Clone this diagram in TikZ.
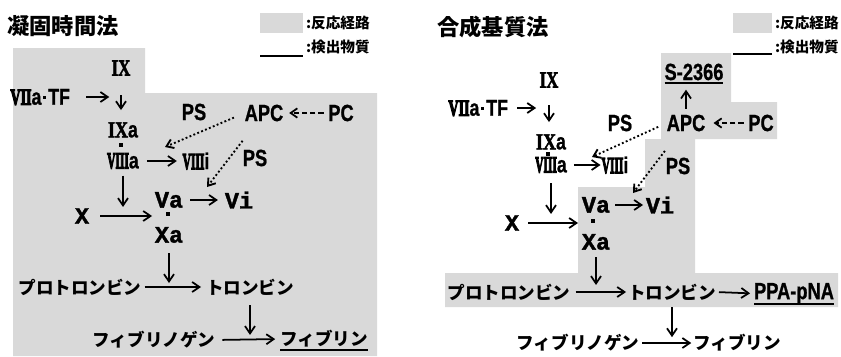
\documentclass[tikz,border=0pt]{standalone}
\usepackage{fontspec}
\usetikzlibrary{arrows.meta}
\newfontfamily\jp{Noto Sans CJK JP}
\newfontfamily\lsans{Liberation Sans}[BoldFeatures={FakeBold=1}]
\newfontfamily\lserif{Liberation Serif}[BoldFeatures={FakeBold=2.5}]
\newfontfamily\lserifH{Liberation Serif}[BoldFeatures={FakeBold=6}]
\newfontfamily\lmono{Liberation Mono}[BoldFeatures={FakeBold=1.5}]
\definecolor{pathgray}{HTML}{D9D9D9}
\newcommand{\sn}[1]{\scalebox{0.78}[1]{\lsans\bfseries #1}}
\newcommand{\rn}[2]{\resizebox{#1}{\height}{\lserif\bfseries #2}}
\newcommand{\rnh}[2]{\resizebox{#1}{\height}{\lserifH\bfseries #2}}
\newcommand{\sq}{\hspace{1.5pt}\rule[0.25em]{2.8pt}{2.8pt}\hspace{1.5pt}}
\tikzset{
  every node/.style={inner sep=0pt, outer sep=0pt},
  ttl/.style={font=\jp\bfseries\fontsize{19}{20}\selectfont},
  leg/.style={anchor=west, font=\jp\bfseries\fontsize{12.5}{13}\selectfont},
  jpt/.style={font=\jp\bfseries\fontsize{15}{16}\selectfont},
  lat/.style={font=\fontsize{20}{20}\selectfont},
  fac/.style={font=\fontsize{19.5}{19.5}\selectfont},
  mon/.style={font=\lmono\bfseries\fontsize{20}{20}\selectfont},
  cdot/.style={fill=black, minimum size=2.8pt, inner sep=0pt},
  arr/.style={line width=1.5pt, -{Straight Barb[length=2.2mm,width=3mm]}},
  dotarr/.style={line width=1.6pt, dotted, -{Straight Barb[length=2mm,width=2.8mm]}},
  dasharr/.style={line width=1.5pt, dash pattern=on 4.5pt off 2.5pt, -{Straight Barb[length=2mm,width=2.8mm]}},
  uline/.style={line width=1.7pt}
}
\begin{document}
\begin{tikzpicture}[x=0.03cm, y=-0.03cm]
\useasboundingbox (0,0) rectangle (841,356);
% ---------- reaction-path regions ----------
\fill[pathgray] (13,48) -- (145,48) -- (145,93) -- (377,93) -- (377,356) -- (13,356) -- cycle;
\fill[pathgray] (661,53) -- (731,53) -- (731,102) -- (777,102) -- (777,139) -- (695,139)
  -- (695,273) -- (838,273) -- (838,307) -- (445,307) -- (445,273) -- (578,273)
  -- (578,187) -- (645,187) -- (645,139) -- (661,139) -- cycle;
% ---------- legends ----------
\fill[pathgray] (260,13) rectangle (303,33);
\node[leg] (L-leg1) at (306,23) {:反応経路};
\draw[uline] (260,56) -- (303,56);
\node[leg] (L-leg2) at (306,47) {:検出物質};
\fill[pathgray] (733,13) rectangle (772,33);
\node[leg] (R-leg1) at (775,23) {:反応経路};
\draw[uline] (733,54) -- (772,54);
\node[leg] (R-leg2) at (775,47) {:検出物質};
% ---------- titles ----------
\node[ttl] (L-title) at (63,26) {凝固時間法};
\node[ttl] (R-title) at (493,27) {合成基質法};

% ================= left panel =================
\node[fac] (L-IX) at (121,68) {\rn{16pt}{IX}};
\node[fac, anchor=east] (L-tf) at (70,97) {\rnh{18pt}{VII}\sn{a}\sq\sn{TF}};
\node[fac] (L-IXa) at (123,130) {\rn{17pt}{IX}\sn{a}};
\node[cdot] (L-dot1) at (121,145) {};
\node[fac] (L-VIIIa) at (123,161) {\rnh{18.5pt}{VIII}\sn{a}};
\node[fac] (L-VIIIi) at (196,161) {\rnh{18.5pt}{VIII}\sn{i}};
\node[lat] (L-PS1) at (194,112) {\sn{PS}};
\node[lat] (L-APC) at (264,113) {\sn{APC}};
\node[lat] (L-PC) at (341,113) {\sn{PC}};
\node[lat] (L-PS2) at (255,158) {\sn{PS}};
\node[mon] (L-X) at (82,216) {X};
\node[mon] (L-Va) at (169,200) {Va};
\node[mon] (L-Vi) at (239,200) {Vi};
\node[cdot] (L-dot2) at (168,214) {};
\node[mon] (L-Xa) at (169,235) {Xa};
\node[jpt] (L-pro) at (80,287) {プロトロンビン};
\node[jpt] (L-thr) at (250,287) {トロンビン};
\node[jpt] (L-fbg) at (154,340) {フィブリノゲン};
\node[jpt] (L-fbn) at (324,339) {フィブリン};
\coordinate (L-d1) at (165,147);
\coordinate (L-d2) at (207,187);

\draw[arr, shorten <=14pt, shorten >=10pt] (L-tf.east) -- (L-tf.east -| L-IX);
\draw[arr, shorten <=17pt, shorten >=17pt] (L-IX) -- (L-IX |- L-IXa);
\draw[arr, shorten <=7pt, shorten >=5pt] (L-VIIIa.east) -- (L-VIIIi.west);
\draw[dasharr, shorten <=4pt, shorten >=5pt] (L-PC.west) -- (L-APC.east);
\draw[dotarr, shorten <=10pt] (L-APC.west) -- (L-d1);
\draw[dotarr, shorten <=21pt] (L-APC) -- (L-d2);
\draw[arr, shorten <=6pt, shorten >=7.7pt] (L-VIIIa.south) -- (L-VIIIa.south |- L-X);
\draw[arr, shorten <=9.4pt, shorten >=13.6pt] (L-X.east) -- (L-X.east -| L-dot2);
\draw[arr, shorten <=6pt, shorten >=6pt] (L-Va.east) -- (L-Vi.west);
\draw[arr, shorten <=9pt, shorten >=3.4pt] (L-Xa.south) -- (L-Xa.south |- L-pro);
\draw[arr, shorten <=2.6pt, shorten >=4.3pt] (L-pro.east) -- (L-thr.west);
\draw[arr, shorten <=8.5pt, shorten >=4.3pt] (L-thr.south) -- (L-thr.south |- L-fbg);
\draw[arr, shorten <=6pt, shorten >=4.3pt] (L-fbg.east) -- (L-fbn.west);
\draw[uline] ([yshift=-1.7pt]L-fbn.south west) -- ([yshift=-1.7pt]L-fbn.south east);

% ================= right panel =================
\node[fac] (R-IX) at (549,80) {\rn{16pt}{IX}};
\node[fac, anchor=east] (R-tf) at (508,108) {\rnh{18pt}{VII}\sn{a}\sq\sn{TF}};
\node[fac] (R-IXa) at (551,142) {\rn{17pt}{IX}\sn{a}};
\node[cdot] (R-dot1) at (548,154) {};
\node[fac] (R-VIIIa) at (551,165) {\rnh{18.5pt}{VIII}\sn{a}};
\node[fac] (R-VIIIi) at (615,165) {\rnh{18.5pt}{VIII}\sn{i}};
\node[lat] (R-PS1) at (620,123) {\sn{PS}};
\node[lat] (R-APC) at (686,123) {\sn{APC}};
\node[lat] (R-PC) at (761,123) {\sn{PC}};
\node[lat] (R-S) at (694,72) {\sn{S-2366}};
\node[lat] (R-PS2) at (678,166) {\sn{PS}};
\node[mon] (R-X) at (512,223) {X};
\node[mon] (R-Va) at (596,205) {Va};
\node[mon] (R-Vi) at (660,205) {Vi};
\node[cdot] (R-dot2) at (593,221) {};
\node[mon] (R-Xa) at (596,242) {Xa};
\node[jpt] (R-pro) at (509,292) {プロトロンビン};
\node[jpt] (R-thr) at (672,292) {トロンビン};
\node[lat] (R-PPA) at (794,293.5) {\sn{PPA-pNA}};
\node[jpt] (R-fbg) at (578,343) {フィブリノゲン};
\node[jpt] (R-fbn) at (737,343) {フィブリン};
\coordinate (R-d1) at (592,157);
\coordinate (R-d2) at (633,193);

\draw[arr, shorten <=7.7pt, shorten >=11pt] (R-tf.east) -- (R-tf.east -| R-IX);
\draw[arr, shorten <=15.3pt, shorten >=17pt] (R-IX) -- (R-IX |- R-IXa);
\draw[arr, shorten <=6pt, shorten >=1pt] (R-VIIIa.east) -- (R-VIIIi.west);
\draw[dasharr, shorten <=4pt, shorten >=7pt] (R-PC.west) -- (R-APC.east);
\draw[arr, shorten <=5pt, shorten >=8pt] (R-APC.north) -- (R-APC.north |- R-S.south);
\draw[dotarr, shorten <=8pt] (R-APC.west) -- (R-d1);
\draw[dotarr, shorten <=21pt] (R-APC) -- (R-d2);
\draw[arr, shorten <=9pt, shorten >=7.7pt] (R-VIIIa.south) -- (R-VIIIa.south |- R-X);
\draw[arr, shorten <=7.7pt, shorten >=12.8pt] (R-X.east) -- (R-X.east -| R-dot2);
\draw[arr, shorten <=4.3pt, shorten >=2.5pt] (R-Va.east) -- (R-Vi.west);
\draw[arr, shorten <=6.4pt, shorten >=6pt] (R-Xa.south) -- (R-Xa.south |- R-pro);
\draw[arr, shorten <=4.3pt, shorten >=1.7pt] (R-pro.east) -- (R-thr.west);
\draw[arr, shorten <=2.6pt, shorten >=3.4pt] (R-thr.east) -- (R-PPA.west);
\draw[arr, shorten <=6pt, shorten >=5pt] (R-thr.south) -- (R-thr.south |- R-fbg);
\draw[arr, shorten <=2.6pt, shorten >=1.7pt] (R-fbg.east) -- (R-fbn.west);
\draw[uline] ([yshift=-2pt]R-S.south west) -- ([yshift=-2pt]R-S.south east);
\draw[uline] (R-PPA.south west) -- (R-PPA.south east);
\end{tikzpicture}
\end{document}
